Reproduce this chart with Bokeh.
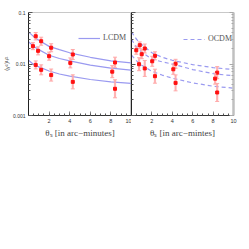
import math
from bokeh.plotting import figure
from bokeh.layouts import row
from bokeh.models import (Legend, LegendItem, LogAxis, ColumnDataSource,
                          Whisker, TeeHead, PrintfTickFormatter, FixedTicker)
from bokeh.embed import file_html
from bokeh.resources import INLINE

# ---------------- data ----------------
# model curves, sampled at theta_curve
theta_curve = [0, 0.5, 1, 2, 3, 4, 6, 8, 10]
lcdm_top = [0.042, 0.034, 0.029, 0.022, 0.019, 0.0165, 0.0135, 0.0115, 0.0105]
lcdm_mid = [0.027, 0.022, 0.019, 0.0148, 0.0128, 0.0115, 0.0095, 0.0083, 0.0076]
lcdm_bot = [0.0118, 0.0098, 0.0088, 0.0073, 0.0064, 0.0058, 0.0050, 0.0045, 0.0042]
ocdm_top = [0.042, 0.030, 0.024, 0.0165, 0.0135, 0.0118, 0.0097, 0.0085, 0.0078]
ocdm_mid = [0.030, 0.021, 0.017, 0.0125, 0.0110, 0.0100, 0.0078, 0.0065, 0.0059]
ocdm_bot = [0.0149, 0.0115, 0.0095, 0.0072, 0.0061, 0.0053, 0.0043, 0.0037, 0.0034]

# measured points (left panel)
lx_top = [0.7, 1.23, 2.2, 4.3, 8.4]
ly_top = [0.0346, 0.0277, 0.0207, 0.0153, 0.0107]
le_top = [0.072, 0.078, 0.078, 0.097, 0.103]   # half-length of error bar in dex
lx_mid = [0.43, 0.93, 2.0, 4.06, 8.13]
ly_mid = [0.0222, 0.0180, 0.0142, 0.0105, 0.0071]
le_mid = [0.068, 0.078, 0.078, 0.097, 0.117]
lx_bot = [0.7, 1.23, 2.2, 4.3, 8.4]
ly_bot = [0.0096, 0.0077, 0.0061, 0.0045, 0.0033]
le_bot = [0.078, 0.097, 0.117, 0.136, 0.175]

# measured points (right panel)
rx_top = [0.81, 1.3, 2.3, 4.32, 8.4]
ry_top = [0.0232, 0.0200, 0.0144, 0.0101, 0.0068]
re_top = [0.064, 0.087, 0.078, 0.087, 0.117]
rx_mid = [0.47, 1.0, 2.03, 4.1, 8.2]
ry_mid = [0.0185, 0.0155, 0.0113, 0.0079, 0.0052]
re_mid = [0.078, 0.087, 0.097, 0.097, 0.107]
rx_bot = [0.74, 1.3, 2.3, 4.32, 8.4]
ry_bot = [0.0099, 0.0082, 0.0058, 0.0043, 0.0028]
re_bot = [0.126, 0.155, 0.136, 0.155, 0.175]

x_ticks = [2, 4, 6, 8, 10]
x_minor = [0.5 * i for i in range(1, 20)]
y_ticks = [0.001, 0.01, 0.1]
y_minor = [m * d for d in (0.001, 0.01) for m in range(2, 10)]
x_label_left = "θₛ [in arc−minutes]"
x_label_right = "θₛ [in arc−mintes]"
y_label = "⟨γ²⟩¹/²"

CURVE = "#9a9af0"
ERR = "#ffaaaa"
PT = "#ff1010"
SERIF = "Liberation Serif"
SANS = "Liberation Sans"


def make_panel(curves, dash, pts, legend_text, legend_loc, xlabel, show_ylabels, right_gray):
    p = figure(frame_width=103 if show_ylabels else 102, frame_height=103,
               x_range=(0, 10), y_range=(0.001, 0.1), y_axis_type="log",
               output_backend="svg", toolbar_location=None,
               min_border_left=25 if show_ylabels else 0, min_border_right=0 if show_ylabels else 8,
               min_border_top=12, min_border_bottom=26)
    p.background_fill_color = "white"
    p.border_fill_color = None
    p.grid.visible = False
    p.outline_line_color = "#c8c8c8"
    p.outline_line_width = 1

    # x axis
    xa = p.xaxis[0]
    xa.ticker = FixedTicker(ticks=x_ticks, minor_ticks=x_minor)
    xa.major_tick_in = 4
    xa.major_tick_out = 0
    xa.minor_tick_in = 2
    xa.minor_tick_out = 0
    xa.major_tick_line_color = "#888888"
    xa.minor_tick_line_color = "#555555"
    xa.axis_line_color = "#333333"
    xa.major_label_text_font = SANS
    xa.major_label_text_font_size = "5.5px"
    xa.major_label_text_color = "#333333"
    xa.major_label_standoff = 3
    xa.axis_label = xlabel
    xa.axis_label_text_font = SERIF
    xa.axis_label_text_font_style = "normal"
    xa.axis_label_text_font_size = "9px"
    xa.axis_label_text_color = "#444444"
    xa.axis_label_standoff = 2

    # y axis
    ya = p.yaxis[0]
    ya.ticker = FixedTicker(ticks=y_ticks, minor_ticks=y_minor)
    ya.major_tick_in = 4
    ya.major_tick_out = 0
    ya.minor_tick_in = 2
    ya.minor_tick_out = 0
    ya.axis_line_color = "#222222"
    ya.major_tick_line_color = "#555555"
    ya.minor_tick_line_color = "#555555"
    if show_ylabels:
        ya.formatter = PrintfTickFormatter(format="%g")
        ya.major_label_text_font_size = "5px"
        ya.major_label_standoff = 3
        ya.axis_label = y_label
        ya.axis_label_text_font = SANS
        ya.axis_label_text_font_style = "normal"
        ya.axis_label_text_font_size = "6px"
        ya.axis_label_text_color = "#444444"
        ya.axis_label_standoff = 0
    else:
        ya.formatter = PrintfTickFormatter(format=".")
        ya.major_label_text_font_size = "1px"
        ya.major_label_text_alpha = 0
        ya.major_label_standoff = 0
    ya.major_label_text_font = SANS
    ya.major_label_text_color = "#333333"

    if right_gray:
        ra = LogAxis(ticker=FixedTicker(ticks=y_ticks, minor_ticks=y_minor),
                     formatter=PrintfTickFormatter(format="."),
                     axis_line_color="#c0c0c0", axis_line_width=2.5,
                     major_tick_in=4, major_tick_out=0, minor_tick_in=2, minor_tick_out=0,
                     major_tick_line_color="#aaaaaa", minor_tick_line_color="#aaaaaa",
                     major_label_text_font_size="1px", major_label_text_alpha=0,
                     major_label_standoff=0)
        p.add_layout(ra, "right")

    # curves
    first = None
    for ys in curves:
        r = p.line(theta_curve, ys, line_color=CURVE, line_width=1.2, line_dash=dash)
        if first is None:
            first = r

    # error bars + points
    for xs, ys, es in pts:
        lo = [y / 10 ** e for y, e in zip(ys, es)]
        hi = [y * 10 ** e for y, e in zip(ys, es)]
        src = ColumnDataSource(dict(x=xs, y=ys, lo=lo, hi=hi))
        p.segment("x", "lo", "x", "hi", source=src, line_color=ERR, line_width=2.2, line_alpha=0.8)
        w = Whisker(base="x", lower="lo", upper="hi", source=src, line_color=ERR,
                    line_width=1, line_alpha=0.9,
                    upper_head=TeeHead(size=4, line_color=ERR, line_width=1),
                    lower_head=TeeHead(size=4, line_color=ERR, line_width=1))
        p.add_layout(w)
        p.scatter("x", "y", source=src, marker="square", size=3, fill_color=PT, line_color=PT)

    leg = Legend(items=[LegendItem(label=legend_text, renderers=[first])],
                 location=legend_loc, border_line_color=None, background_fill_alpha=0,
                 margin=0, padding=0, glyph_width=22, glyph_height=8, label_standoff=3,
                 label_text_font=SERIF, label_text_font_size="8px", label_text_color="#555555",
                 label_height=8)
    p.add_layout(leg)
    return p


left = make_panel([lcdm_top, lcdm_mid, lcdm_bot], "solid",
                  [(lx_top, ly_top, le_top), (lx_mid, ly_mid, le_mid), (lx_bot, ly_bot, le_bot)],
                  "LCDM", (50, 73), x_label_left, True, False)
right = make_panel([ocdm_top, ocdm_mid, ocdm_bot], "4 3",
                   [(rx_top, ry_top, re_top), (rx_mid, ry_mid, re_mid), (rx_bot, ry_bot, re_bot)],
                   "OCDM", (52, 72), x_label_right, False, True)

layout = row(left, right)
open("out.html", "w").write(file_html(layout, INLINE))
